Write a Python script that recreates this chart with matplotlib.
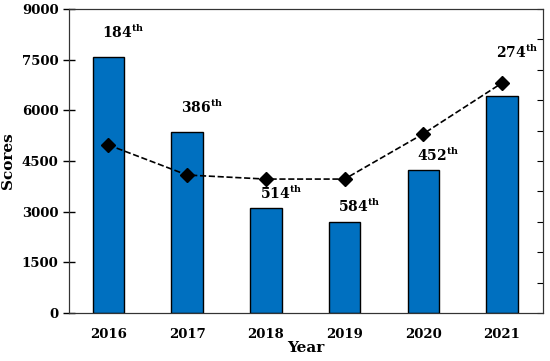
import matplotlib.pyplot as plt

plt.rcParams['font.family'] = 'DejaVu Serif'
plt.rcParams['font.weight'] = 'bold'
plt.rcParams['mathtext.fontset'] = 'custom'
plt.rcParams['mathtext.rm'] = 'DejaVu Serif'
plt.rcParams['mathtext.bf'] = 'DejaVu Serif:bold'

years = ["2016", "2017", "2018", "2019", "2020", "2021"]
scores = [7580, 5360, 3100, 2685, 4235, 6415]
trend = [4975, 4085, 3965, 3965, 5305, 6810]
ranks = ["184", "386", "514", "584", "452", "274"]
rank_y = [8320, 6100, 3550, 3170, 4680, 7730]

x = list(range(len(years)))

fig = plt.figure(figsize=(5.5, 3.61), dpi=100)
ax = fig.add_axes([69/550, 48/361, 474/550, 304/361])

ax.bar(x, scores, width=0.4, color="#0070C0", edgecolor="black", linewidth=1, zorder=2)
ax.plot(x, trend, color="black", linestyle="--", linewidth=1.2,
        marker="D", markersize=7.5, zorder=3)

for i in x:
    ax.text(i + 0.19, rank_y[i], ranks[i] + r"$^{\mathbf{th}}$",
            ha="center", va="center", fontsize=10, fontweight="bold")

ax.set_xlim(-0.5, 5.52)
ax.set_ylim(0, 9000)
ax.set_yticks([0, 1500, 3000, 4500, 6000, 7500, 9000])
ax.set_xticks(x)
ax.set_xticklabels(years)
ax.tick_params(axis="y", direction="inout", length=8, labelsize=9.5, width=1)
ax.tick_params(axis="x", length=0, labelsize=9.5, pad=11)
ax.set_xlabel("Year", fontsize=11, fontweight="bold", labelpad=0)
ax.set_ylabel("Scores", fontsize=11, fontweight="bold", labelpad=5)

ax2 = ax.twinx()
ax2.set_ylim(0, 10)
ax2.set_yticks(range(11))
ax2.tick_params(axis="y", direction="in", length=4, labelright=False)

for a in (ax, ax2):
    for s in a.spines.values():
        s.set_color("#333333")

fig.savefig("out.png", dpi=100)
